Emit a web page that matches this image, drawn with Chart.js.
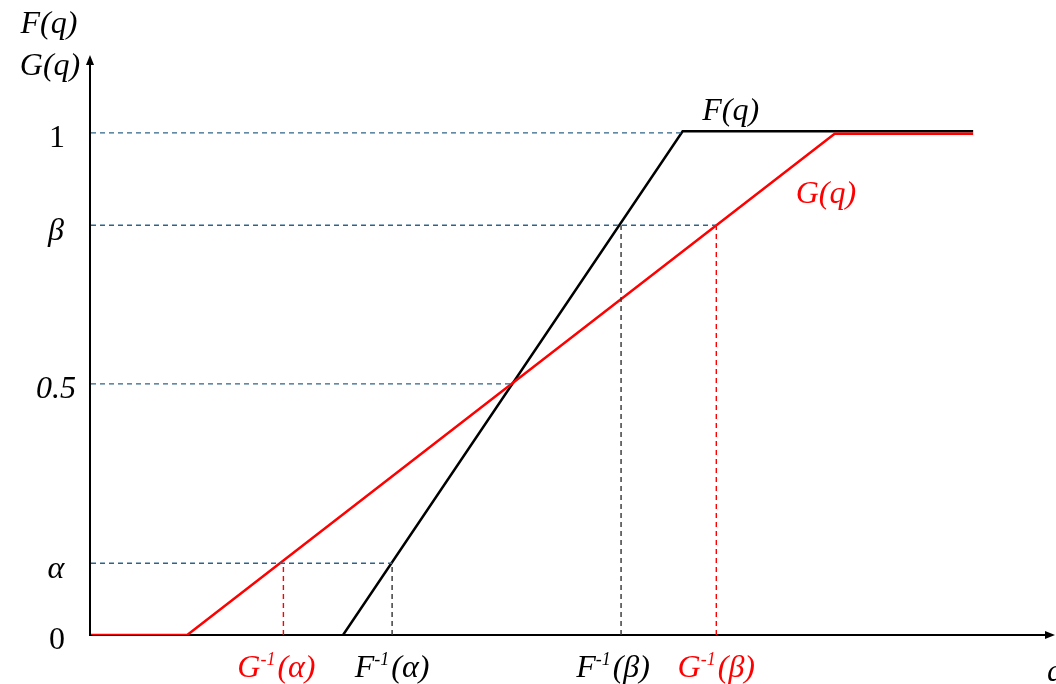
<!DOCTYPE html>
<html>
<head>
<meta charset="utf-8">
<script src="https://cdn.jsdelivr.net/npm/chart.js@4.4.1/dist/chart.umd.min.js"></script>
<style>
  html, body { margin: 0; padding: 0; background: #fff; }
</style>
</head>
<body>
<canvas id="cdfChart" width="1056" height="684"></canvas>
<script>
// levels
const alpha = 0.143;
const beta = 0.816;

// G(q): red, F(q): black
const gQ = [0, 1.0, 7.73, 9.17];
const gVal = [0, 0, 0.998, 0.998];
const fQ = [2.62, 6.15, 9.17];
const fVal = [0, 1.003, 1.003];

// tick labels
const yTickVals = [0, alpha, 0.5, beta, 1];
const yTickLabels = ['0', 'α', '0.5', 'β', '1'];
const xTickVals = [2.0, 3.13, 5.51, 6.5];
const xTickNames = ['G', 'F', 'F', 'G'];
const xTickArgs = ['(α)', '(α)', '(β)', '(β)'];
const xTickColors = ['#ff0000', '#000000', '#000000', '#ff0000'];

// dashed guides
const hGuideLevels = [1, beta, 0.5, alpha];
const hGuideEnds = [6.15, 6.5, 4.36, 3.13];
const vGuideQ = xTickVals;
const vGuideTops = [alpha, alpha, beta, beta];
const vGuideColors = ['#ff0000', '#333333', '#333333', '#ff0000'];

const serif = '"Liberation Serif", "Times New Roman", serif';

function pts(xs, ys) {
  return xs.map((x, i) => ({ x: x, y: ys[i] }));
}

const datasets = [];
hGuideLevels.forEach((lvl, i) => {
  datasets.push({
    data: pts([0, hGuideEnds[i]], [lvl, lvl]),
    borderColor: '#2f6488',
    borderWidth: 1.4,
    borderDash: [5, 4],
    pointRadius: 0
  });
});
vGuideQ.forEach((q, i) => {
  datasets.push({
    data: pts([q, q], [0, vGuideTops[i]]),
    borderColor: vGuideColors[i],
    borderWidth: 1.4,
    borderDash: [5, 4],
    pointRadius: 0
  });
});
datasets.push({
  label: 'G(q)',
  data: pts(gQ, gVal),
  borderColor: '#ff0000',
  borderWidth: 2.5,
  pointRadius: 0
});
datasets.push({
  label: 'F(q)',
  data: pts(fQ, fVal),
  borderColor: '#000000',
  borderWidth: 2.5,
  pointRadius: 0
});

const decorations = {
  id: 'decorations',
  beforeDatasetsDraw(chart) {
    const c = chart.ctx;
    const a = chart.chartArea;
    const x0 = a.left - 1, y0 = a.bottom;
    c.save();
    c.strokeStyle = '#000';
    c.fillStyle = '#000';
    c.lineWidth = 2;
    c.beginPath();
    c.moveTo(x0, y0 + 1);
    c.lineTo(x0, a.top + 8);
    c.moveTo(x0 - 1, y0);
    c.lineTo(a.right - 8, y0);
    c.stroke();
    // arrow heads
    c.beginPath();
    c.moveTo(x0, a.top);
    c.lineTo(x0 - 4, a.top + 10);
    c.lineTo(x0 + 4, a.top + 10);
    c.closePath();
    c.fill();
    c.beginPath();
    c.moveTo(a.right + 2, y0);
    c.lineTo(a.right - 8, y0 - 4);
    c.lineTo(a.right - 8, y0 + 4);
    c.closePath();
    c.fill();
    c.restore();
  },
  afterDraw(chart) {
    const c = chart.ctx;
    const xs = chart.scales.x, ys = chart.scales.y;
    c.save();
    c.textBaseline = 'alphabetic';

    // axis titles
    c.fillStyle = '#000';
    c.textAlign = 'center';
    c.font = 'italic 32px ' + serif;
    c.fillText('F(q)', 49, 33);
    c.fillText('G(q)', 50, 75);
    c.textAlign = 'left';
    c.fillText('q', 1047, 681);

    // y tick labels
    c.textAlign = 'center';
    c.textBaseline = 'middle';
    yTickVals.forEach((v, i) => {
      const lab = yTickLabels[i];
      const upright = lab === '0' || lab === '1';
      c.font = (upright ? '' : 'italic ') + '32px ' + serif;
      c.fillText(lab, upright ? 57 : 56, ys.getPixelForValue(v) + 6);
    });

    // x tick labels with superscript -1 (small nudges to sit as in the source)
    const nudge = [-7, 0, -8, 0];
    c.textBaseline = 'alphabetic';
    c.textAlign = 'left';
    xTickVals.forEach((v, i) => {
      const big = 'italic 32px ' + serif;
      const small = 'italic 18px ' + serif;
      c.font = big;
      const w1 = c.measureText(xTickNames[i]).width;
      const w3 = c.measureText(xTickArgs[i]).width;
      c.font = small;
      const w2 = c.measureText('-1').width + 2;
      let x = xs.getPixelForValue(v) - (w1 + w2 + w3) / 2 + nudge[i];
      const base = 677;
      c.fillStyle = xTickColors[i];
      c.font = big;
      c.fillText(xTickNames[i], x, base);
      x += w1;
      c.font = small;
      c.fillText('-1', x, base - 12);
      x += w2;
      c.font = big;
      c.fillText(xTickArgs[i], x, base);
    });

    // curve labels
    c.textAlign = 'center';
    c.font = 'italic 32px ' + serif;
    c.fillStyle = '#000';
    c.fillText('F(q)', xs.getPixelForValue(6.65), ys.getPixelForValue(1.025));
    c.fillStyle = '#ff0000';
    c.fillText('G(q)', xs.getPixelForValue(7.64), ys.getPixelForValue(0.86));
    c.restore();
  }
};

new Chart(document.getElementById('cdfChart'), {
  type: 'line',
  data: { datasets: datasets },
  options: {
    responsive: false,
    devicePixelRatio: 1,
    animation: false,
    layout: { padding: { left: 91, right: 3, top: 55, bottom: 49 } },
    elements: { line: { tension: 0, fill: false, borderCapStyle: 'butt' } },
    plugins: { legend: { display: false }, tooltip: { enabled: false } },
    scales: {
      x: { type: 'linear', min: 0, max: 10, display: false },
      y: { type: 'linear', min: 0, max: 1.155, display: false }
    }
  },
  plugins: [decorations]
});
</script>
</body>
</html>
